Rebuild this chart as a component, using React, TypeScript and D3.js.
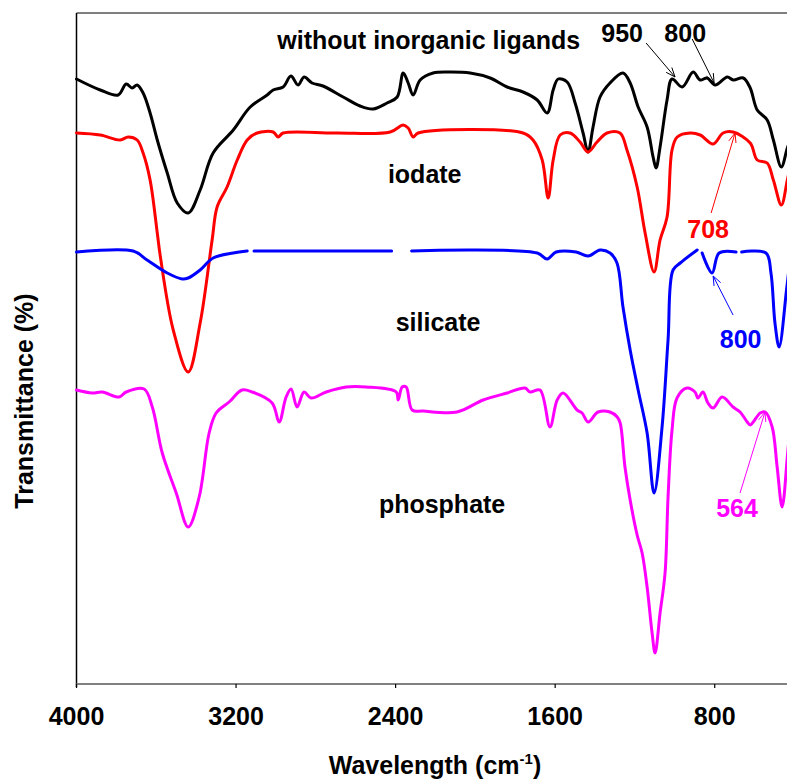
import React from "react";
import * as d3 from "d3";

type Pt = [number, number | null];

// Spectra: [wavenumber (cm-1), transmittance (a.u., offset)]
const withoutLigands: Pt[] = [
  [4000, 60.5], [3881, 59.4], [3791, 58.9], [3751, 60.0], [3721, 59.6], [3696, 59.9], [3666, 59.1],
  [3631, 57.1], [3595, 54.4], [3545, 51.1], [3495, 48.1], [3440, 47.1], [3380, 49.4], [3315, 53.1],
  [3214, 55.4], [3129, 57.7], [3044, 58.9], [3014, 59.4], [2964, 59.7], [2925, 60.8], [2889, 59.9],
  [2859, 60.7], [2819, 60.1], [2764, 59.8], [2663, 58.7], [2578, 57.8], [2513, 57.5], [2443, 58.1],
  [2392, 58.7], [2362, 61.1], [2337, 60.1], [2312, 58.9], [2277, 60.4], [2212, 61.1], [2127, 61.2],
  [2026, 61.1], [1926, 60.6], [1841, 59.7], [1761, 59.2], [1690, 58.4], [1640, 57.1], [1610, 59.4],
  [1585, 60.5], [1540, 60.2], [1500, 58.1], [1460, 55.1], [1435, 53.2], [1410, 55.7], [1375, 58.7],
  [1325, 60.1], [1260, 61.1], [1224, 60.1], [1184, 57.7], [1139, 55.7], [1109, 52.7], [1094, 51.6],
  [1074, 53.7], [1039, 58.4], [1014, 60.5], [963, 59.7], [908, 61.2], [873, 60.4], [838, 60.6],
  [798, 59.9], [737, 60.7], [707, 60.4], [657, 60.6], [622, 59.6], [587, 57.4], [537, 56.4],
  [506, 54.4], [466, 51.7], [436, 53.6], [420, 54.4],
];

const iodate: Pt[] = [
  [4000, 55.1], [3881, 54.9], [3781, 54.4], [3741, 54.7], [3696, 54.4], [3666, 53.1], [3631, 50.4],
  [3595, 45.1], [3580, 42.8], [3515, 35.4], [3440, 31.2], [3380, 36.1], [3320, 44.4], [3295, 47.7],
  [3245, 49.7], [3194, 52.4], [3144, 54.4], [3094, 55.1], [3014, 55.2], [2989, 54.7], [2964, 55.1],
  [2700, 55.1], [2427, 55.2], [2362, 55.9], [2337, 55.6], [2312, 54.7], [2287, 55.1], [1761, 55.1],
  [1711, 54.4], [1665, 52.4], [1635, 48.6], [1610, 52.4], [1575, 54.9], [1525, 55.1], [1475, 54.2],
  [1435, 53.2], [1390, 54.2], [1340, 55.1], [1275, 55.1], [1240, 53.4], [1189, 49.7], [1149, 45.1],
  [1104, 41.2], [1074, 44.4], [1039, 46.7], [1014, 53.4], [988, 54.7], [923, 55.1], [873, 54.9],
  [808, 54.0], [758, 55.1], [708, 55.2], [622, 54.1], [587, 52.4], [537, 52.1], [506, 50.4],
  [466, 47.9], [436, 50.4], [420, 51.9],
];

const silicate: Pt[] = [
  [4000, 43.2], [3716, 43.3], [3646, 42.4], [3545, 41.1], [3470, 40.5], [3440, 40.6], [3380, 41.4],
  [3315, 42.6], [3214, 43.1], [3144, 43.3], [3130, null], [3110, 43.3], [2420, 43.3], [2360, null],
  [2320, 43.3], [1690, 43.1], [1640, 42.5], [1595, 43.2], [1495, 43.2], [1435, 42.8], [1375, 43.4],
  [1325, 43.1], [1290, 42.1], [1260, 37.7], [1224, 33.4], [1184, 29.4], [1139, 25.1], [1104, 19.1],
  [1064, 25.7], [1034, 34.4], [1009, 41.4], [973, 42.1], [888, 43.4], [875, null], [863, 43.1],
  [813, 41.1], [778, 43.1], [693, 43.2], [678, null], [665, 43.2], [543, 43.1], [518, 41.1],
  [498, 36.1], [477, 33.7], [440, 39.4], [420, 42.9],
];

const phosphate: Pt[] = [
  [4000, 29.4], [3921, 29.1], [3871, 29.2], [3786, 28.7], [3751, 29.2], [3661, 29.5], [3620, 27.7],
  [3570, 23.1], [3500, 19.1], [3440, 15.7], [3385, 18.7], [3335, 25.1], [3300, 27.1], [3235, 28.2],
  [3170, 29.4], [3119, 29.2], [3019, 28.1], [2984, 26.2], [2949, 28.7], [2924, 29.5], [2894, 27.7],
  [2859, 29.2], [2824, 28.6], [2748, 29.2], [2648, 29.7], [2548, 29.7], [2397, 29.2], [2387, 28.4],
  [2367, 29.7], [2347, 29.7], [2317, 27.4], [2262, 27.3], [2092, 27.2], [1961, 28.4], [1841, 29.1],
  [1751, 29.6], [1726, 29.2], [1676, 29.4], [1626, 25.7], [1590, 28.4], [1560, 29.1], [1490, 27.4],
  [1465, 27.1], [1435, 26.2], [1385, 27.2], [1325, 27.2], [1289, 26.7], [1274, 26.1], [1250, 21.7],
  [1224, 18.4], [1189, 14.9], [1164, 13.1], [1139, 9.7], [1114, 5.1], [1099, 3.1], [1074, 7.1],
  [1049, 11.1], [1034, 18.7], [1014, 25.4], [989, 28.6], [939, 29.6], [899, 29.2], [884, 28.6],
  [859, 29.2], [834, 28.1], [808, 27.6], [763, 28.7], [708, 27.7], [673, 27.2], [637, 26.2],
  [622, 25.9], [572, 27.1], [547, 27.2], [512, 25.7], [487, 21.7], [462, 17.7], [436, 22.7],
  [420, 26.4],
];

const seriesColors = ["#000000", "#ff0000", "#0000ff", "#ff00ff"];
const seriesData = [withoutLigands, iodate, silicate, phosphate];

const xTicks = [4000, 3200, 2400, 1600, 800];
const xDomain = [4000, 400];
const yDomain = [0, 67.1];

// Labels: [text, wavenumber (center), value (baseline), color]
const labelTexts = ["without inorganic ligands", "950", "800", "iodate", "708", "silicate", "800", "phosphate", "564"];
const labelW = [2234, 1264, 948, 2254, 833, 2187, 670, 2167, 688];
const labelV = [63.5, 64.2, 64.2, 50.1, 44.6, 35.3, 33.6, 17.1, 16.7];
const labelColors = ["#000", "#000", "#000", "#000", "#ff0000", "#000", "#0000ff", "#000", "#ff00ff"];

// Arrows: from (w, v) to (w, v)
const arrowFromW = [1144, 913, 818, 708, 673];
const arrowFromV = [64.1, 64.5, 47.1, 36.9, 19.1];
const arrowToW = [999, 803, 698, 808, 548];
const arrowToV = [60.7, 60.1, 55.1, 40.8, 27.2];
const arrowColors = ["#000", "#000", "#ff0000", "#0000ff", "#ff00ff"];

export default function App() {
  const W = 787, H = 782;
  const x = d3.scaleLinear().domain(xDomain).range([76.5, 794.5]);
  const y = d3.scaleLinear().domain(yDomain).range([684, 13]);
  const line = d3
    .line<Pt>()
    .defined((d) => d[1] != null)
    .x((d) => x(d[0]))
    .y((d) => y(d[1] as number))
    .curve(d3.curveCatmullRom.alpha(0.5));

  const font = "'Liberation Sans', Arial, sans-serif";
  const fs = 25;
  const [x0] = x.range();
  const [yBottom, yTop] = y.range();

  const arrowHead = (x1: number, y1: number, x2: number, y2: number) => {
    const ang = Math.atan2(y2 - y1, x2 - x1);
    const len = 10, spread = 0.38;
    const a1 = ang + Math.PI - spread, a2 = ang + Math.PI + spread;
    return `M${x2 + len * Math.cos(a1)},${y2 + len * Math.sin(a1)}L${x2},${y2}L${x2 + len * Math.cos(a2)},${y2 + len * Math.sin(a2)}`;
  };

  return (
    <svg
      width={W}
      height={H}
      style={{ position: "absolute", left: 0, top: 0, background: "#fff" }}
      fontFamily={font}
    >
      {/* frame */}
      <line x1={x0} x2={W} y1={yTop} y2={yTop} stroke="#555" strokeWidth={1.5} />
      <line x1={x0} x2={x0} y1={yTop} y2={yBottom + 3} stroke="#000" strokeWidth={1.5} />
      <line x1={x0} x2={W} y1={yBottom} y2={yBottom} stroke="#808080" strokeWidth={2.2} />
      {xTicks.map((t) => (
        <g key={t}>
          <line x1={x(t)} x2={x(t)} y1={yBottom} y2={yBottom + 4} stroke="#000" strokeWidth={1.2} />
          <text x={x(t)} y={725} textAnchor="middle" fontSize={fs} fontWeight="bold">
            {t}
          </text>
        </g>
      ))}
      <text x={435} y={774} textAnchor="middle" fontSize={fs} fontWeight="bold">
        Wavelength (cm
        <tspan fontSize={15} dy={-10}>-1</tspan>
        <tspan dy={10}>)</tspan>
      </text>
      <text
        transform="translate(33,401) rotate(-90)"
        textAnchor="middle"
        fontSize={fs}
        fontWeight="bold"
      >
        Transmittance (%)
      </text>

      {/* spectra */}
      {seriesData.map((d, i) => (
        <path
          key={i}
          d={line(d) || ""}
          fill="none"
          stroke={seriesColors[i]}
          strokeWidth={3}
          strokeLinejoin="round"
          strokeLinecap="round"
        />
      ))}

      {/* arrows */}
      {arrowFromW.map((_, i) => {
        const x1 = x(arrowFromW[i]), y1 = y(arrowFromV[i]);
        const x2 = x(arrowToW[i]), y2 = y(arrowToV[i]);
        return (
          <g key={i} stroke={arrowColors[i]} strokeWidth={1} fill="none">
            <line x1={x1} y1={y1} x2={x2} y2={y2} />
            <path d={arrowHead(x1, y1, x2, y2)} />
          </g>
        );
      })}

      {/* labels */}
      {labelTexts.map((t, i) => (
        <text
          key={i}
          x={x(labelW[i])}
          y={y(labelV[i])}
          textAnchor="middle"
          fontSize={fs}
          fontWeight="bold"
          fill={labelColors[i]}
        >
          {t}
        </text>
      ))}
    </svg>
  );
}
